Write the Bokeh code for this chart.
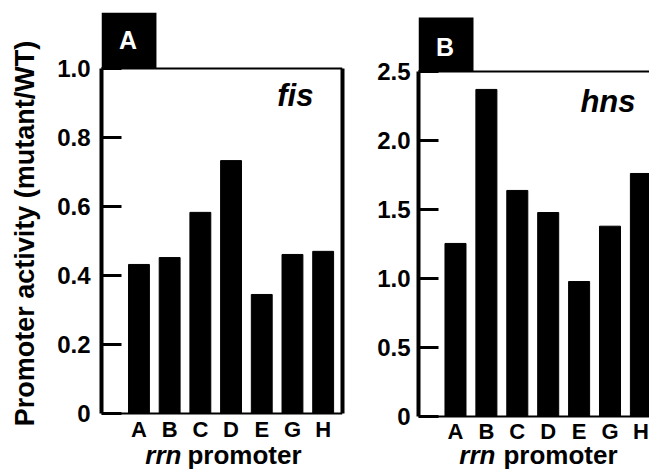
from bokeh.plotting import figure
from bokeh.layouts import row
from bokeh.models import (Range1d, FixedTicker, LinearAxis, Span, BoxAnnotation,
                          Label, ColumnDataSource, PrintfTickFormatter)
from bokeh.embed import file_html
from bokeh.resources import INLINE

# ---- data ----
categories = ["A", "B", "C", "D", "E", "G", "H"]
fis_values = [0.432, 0.452, 0.583, 0.733, 0.345, 0.461, 0.470]
hns_values = [1.254, 2.37, 1.638, 1.478, 0.978, 1.379, 1.761]
fis_ticks = [0, 0.2, 0.4, 0.6, 0.8, 1.0]
hns_ticks = [0, 0.5, 1.0, 1.5, 2.0, 2.5]
y_title = "Promoter activity (mutant/WT)"
x_title_italic = "rrn"
x_title_plain = "promoter"

FONT = "Liberation Sans"


def make_panel(values, ticks, gene, letter, width, borders, xr, yr, box, gene_pos,
               xlab_pos, ylabel=None, right_line=True, label_standoff=11):
    left, right = borders
    box_w, box_top, letter_y = box
    y_max = ticks[-1]
    p = figure(width=width, height=469, output_backend="svg", toolbar_location=None,
               x_range=Range1d(*xr), y_range=Range1d(*yr),
               x_axis_location=None,
               min_border_left=left, min_border_right=right,
               min_border_top=12, min_border_bottom=0)
    p.outline_line_color = None
    p.grid.visible = False
    p.background_fill_color = "white"
    p.border_fill_color = "white"

    idx = list(range(len(categories)))
    src = ColumnDataSource(dict(x=idx, top=values, cat=categories))
    p.vbar(x="x", top="top", bottom=0, width=0.68, source=src,
           fill_color="black", line_color="black", line_width=1)

    # y axis
    ya = p.yaxis[0]
    ya.ticker = FixedTicker(ticks=ticks)
    ya.formatter = PrintfTickFormatter(format="%.1f")
    ya.major_label_overrides = {0: "0"}
    ya.bounds = (0, y_max)
    ya.major_tick_in = 20
    ya.major_tick_out = 0
    ya.minor_tick_in = 0
    ya.minor_tick_out = 0
    ya.major_tick_line_width = 3
    ya.major_tick_line_color = "black"
    ya.axis_line_width = 4
    ya.axis_line_color = "black"
    ya.major_label_text_font = FONT
    ya.major_label_text_font_style = "bold"
    ya.major_label_text_font_size = "24px"
    ya.major_label_text_color = "black"
    ya.major_label_standoff = label_standoff
    if ylabel:
        ya.axis_label = "\u00a0\u00a0" + ylabel
        ya.axis_label_text_font = FONT
        ya.axis_label_text_font_style = "bold"
        ya.axis_label_text_font_size = "27px"
        ya.axis_label_text_color = "black"
        ya.axis_label_standoff = 14

    # x axis placed at y = 0 inside the frame
    xa = LinearAxis(fixed_location=0)
    xa.ticker = FixedTicker(ticks=idx)
    xa.major_label_overrides = {i: c for i, c in zip(idx, categories)}
    xa.major_tick_in = 0
    xa.major_tick_out = 0
    xa.minor_tick_in = 0
    xa.minor_tick_out = 0
    xa.axis_line_width = 2
    xa.axis_line_color = "black"
    xa.major_label_text_font = FONT
    xa.major_label_text_font_style = "bold"
    xa.major_label_text_font_size = "22px"
    xa.major_label_text_color = "black"
    xa.major_label_standoff = 3
    p.add_layout(xa, "below")

    # top frame line
    p.add_layout(Span(location=y_max, dimension="width", line_color="black", line_width=2))
    if right_line:
        ra = LinearAxis(bounds=(0, y_max), ticker=FixedTicker(ticks=[]),
                        axis_line_width=4, axis_line_color="black",
                        major_tick_in=0, major_tick_out=0,
                        minor_tick_in=0, minor_tick_out=0)
        p.add_layout(ra, "right")

    # panel letter box
    p.add_layout(BoxAnnotation(left=xr[0], right=xr[0] + box_w, bottom=y_max, top=box_top,
                               fill_color="black", fill_alpha=1.0, line_color=None))
    p.add_layout(Label(x=xr[0] + box_w / 2 - 0.03, y=letter_y,
                       text=letter, text_color="white", text_font=FONT,
                       text_font_style="bold", text_font_size="25px",
                       text_align="center", text_baseline="middle"))

    # gene name
    p.add_layout(Label(x=gene_pos[0], y=gene_pos[1], text=gene, text_font=FONT,
                       text_font_style="bold italic", text_font_size="31px",
                       text_align="right", text_baseline="middle", text_color="black"))

    # x title (mixed style)
    p.add_layout(Label(x=xlab_pos[0], y=xlab_pos[2], text=x_title_italic, text_font=FONT,
                       text_font_style="bold italic", text_font_size="26px",
                       text_align="right", text_baseline="middle", text_color="black"))
    p.add_layout(Label(x=xlab_pos[1], y=xlab_pos[2], text=x_title_plain, text_font=FONT,
                       text_font_style="bold", text_font_size="26px",
                       text_align="left", text_baseline="middle", text_color="black"))
    return p


pA = make_panel(fis_values, fis_ticks, "fis", "A", 360, (101, 18),
                (-1.22, 6.63), (-0.1623, 1.1623), (1.79, 1.1623, 1.0832),
                (5.684, 0.9217), (1.384, 1.58, -0.1217),
                ylabel=y_title, right_line=True, label_standoff=11)
pB = make_panel(hns_values, hns_ticks, "hns", "B", 289, (58, 0),
                (-1.197, 6.278), (-0.3841, 2.9275), (1.78, 2.8913, 2.679),
                (5.825, 2.2826), (1.294, 1.553, -0.2826),
                ylabel=None, right_line=False, label_standoff=8)

layout = row(pA, pB)
open("out.html", "w").write(file_html(layout, INLINE))
